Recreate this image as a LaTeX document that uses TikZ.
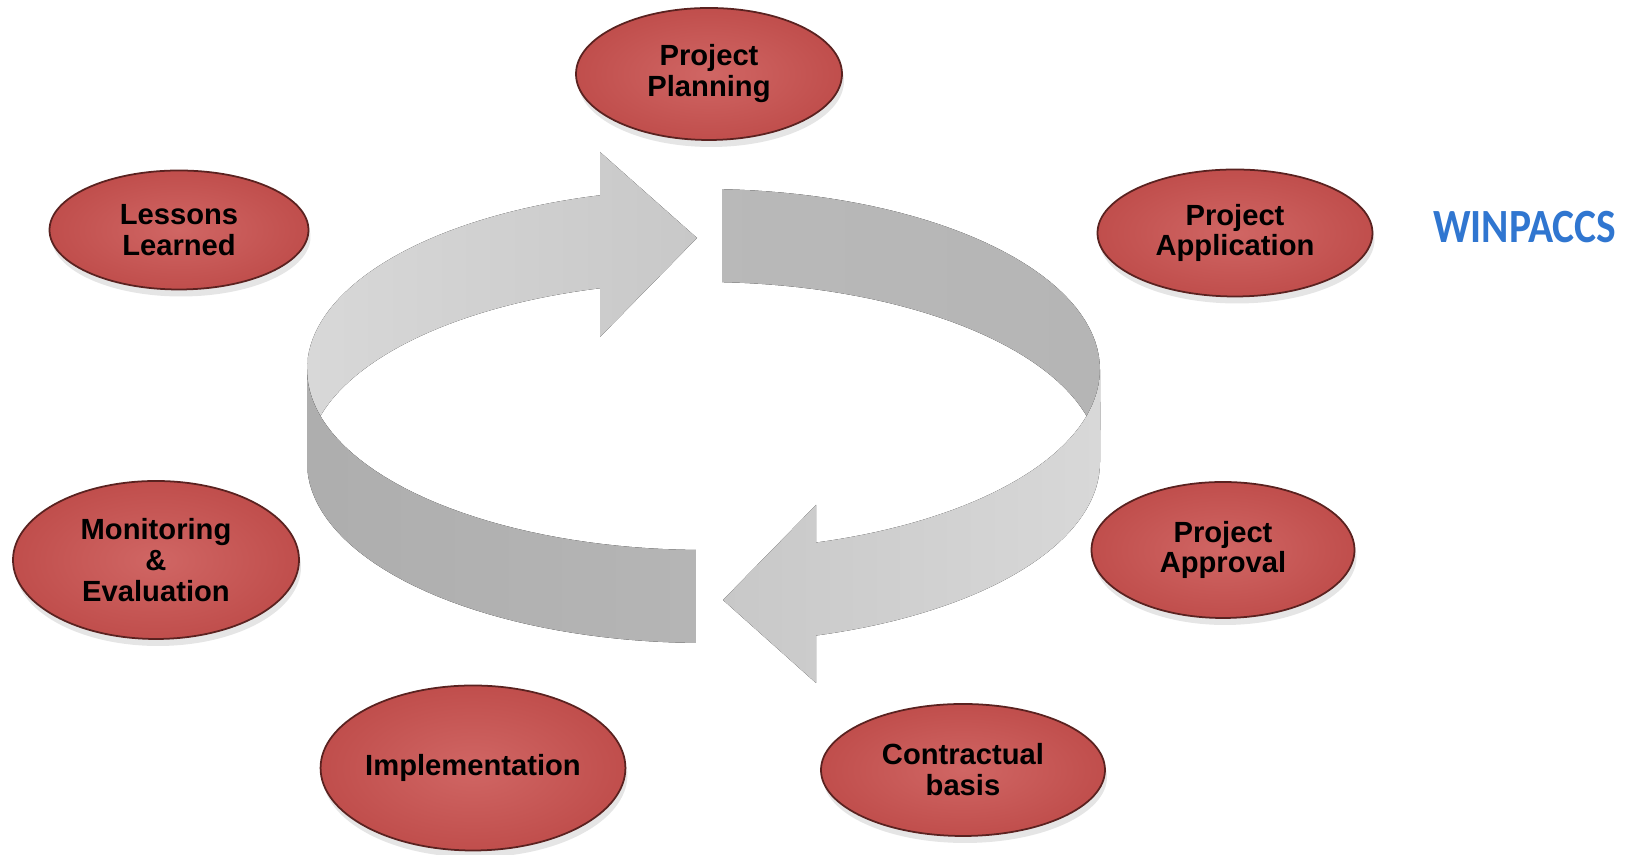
\documentclass[tikz,border=0pt]{standalone}
\usepackage{fontspec}
\setmainfont{Liberation Sans}
\newfontfamily\logofont{Carlito}
\usepackage{tikz}
\usetikzlibrary{shapes.geometric,shadows,positioning}
\definecolor{phasein}{RGB}{208,102,100}
\definecolor{phaseout}{RGB}{192,78,76}
\definecolor{phaseline}{RGB}{90,34,32}
\definecolor{bandhi}{RGB}{216,216,216}
\definecolor{bandmid}{RGB}{200,200,200}
\definecolor{bandlo}{RGB}{181,181,181}
\definecolor{logoblue}{RGB}{48,118,208}
% ring geometry (picture units)
\def\ringx{703.5}
\def\ringy{369.5}
\def\ringa{396.5}
\def\ringb{180.5}
\def\ringh{93}
\tikzset{
    %Define style for the phase ellipses
    phase/.style={
           ellipse,
           draw=phaseline, line width=0.5pt,
           inner color=phasein, outer color=phaseout,
           drop shadow={shadow xshift=0.2mm, shadow yshift=-0.7mm,
                        fill=black!25, opacity=0.4},
           font=\fontsize{8.3}{8.8}\selectfont\bfseries,
           align=center,
           inner sep=0pt},
    %Define styles for the ring pieces
    backlight/.style={left color=bandhi, right color=bandmid},
    backdark/.style={left color=bandlo!95!white, right color=bandlo},
    frontdark/.style={left color=bandlo!96!black, right color=bandlo},
    frontlight/.style={left color=bandmid, right color=bandhi},
    % Define logo style
    logo/.style={
           inner sep=0pt,
           font=\logofont\bfseries\fontsize{11.8}{12}\selectfont,
           text=logoblue}
}
\begin{document}
\begin{tikzpicture}[x=0.1mm, y=-0.1mm]
\useasboundingbox (0,0) rectangle (1631,855);
 %ring, back half
\fill[backlight] (600,152) -- (697,238) -- (600,337)
    -- plot[domain=105.1:180, samples=40] ({\ringx+\ringa*cos(\x)},{\ringy+\ringh-\ringb*sin(\x)})
    -- plot[domain=180:105.1, samples=40] ({\ringx+\ringa*cos(\x)},{\ringy-\ringb*sin(\x)}) -- cycle;
\fill[backdark] plot[domain=87.3:0, samples=40] ({\ringx+\ringa*cos(\x)},{\ringy-\ringb*sin(\x)})
    -- plot[domain=0:87.3, samples=40] ({\ringx+\ringa*cos(\x)},{\ringy+\ringh-\ringb*sin(\x)}) -- cycle;
 %ring, front half
\fill[frontdark] plot[domain=180:268.9, samples=40] ({\ringx+\ringa*cos(\x)},{\ringy-\ringb*sin(\x)})
    -- plot[domain=268.9:180, samples=40] ({\ringx+\ringa*cos(\x)},{\ringy+\ringh-\ringb*sin(\x)}) -- cycle;
\fill[frontlight] (816,505) -- (723,600) -- (816,683)
    -- plot[domain=286.5:360, samples=40] ({\ringx+\ringa*cos(\x)},{\ringy+\ringh-\ringb*sin(\x)})
    -- plot[domain=360:286.5, samples=40] ({\ringx+\ringa*cos(\x)},{\ringy-\ringb*sin(\x)}) -- cycle;
 %nodes
\node[phase, minimum width=26.6mm, minimum height=13.2mm] (plan) at (709,74) {Project\\Planning};
\node[phase, minimum width=27.5mm, minimum height=12.7mm] (appl) at (1235,233) {Project\\Application};
\node[phase, minimum width=26.3mm, minimum height=13.6mm] (appr) at (1223,550) {Project\\Approval};
\node[phase, minimum width=28.4mm, minimum height=13.2mm] (contr) at (963,770) {Contractual\\basis};
\node[phase, minimum width=29.3mm, minimum height=16.5mm] (impl) at (473,768) {Implementation};
\node[phase, minimum width=28.6mm, minimum height=15.8mm] (monit) at (156,560) {Monitoring\\\&\\Evaluation};
\node[phase, minimum width=25.9mm, minimum height=11.9mm] (lessons) at (179,230) {Lessons\\Learned};
\node[logo, right=5.9mm of appl, yshift=0.55mm] (winpaccs) {\scalebox{1}[1.15]{WINPACCS}};
\end{tikzpicture}
\end{document}
